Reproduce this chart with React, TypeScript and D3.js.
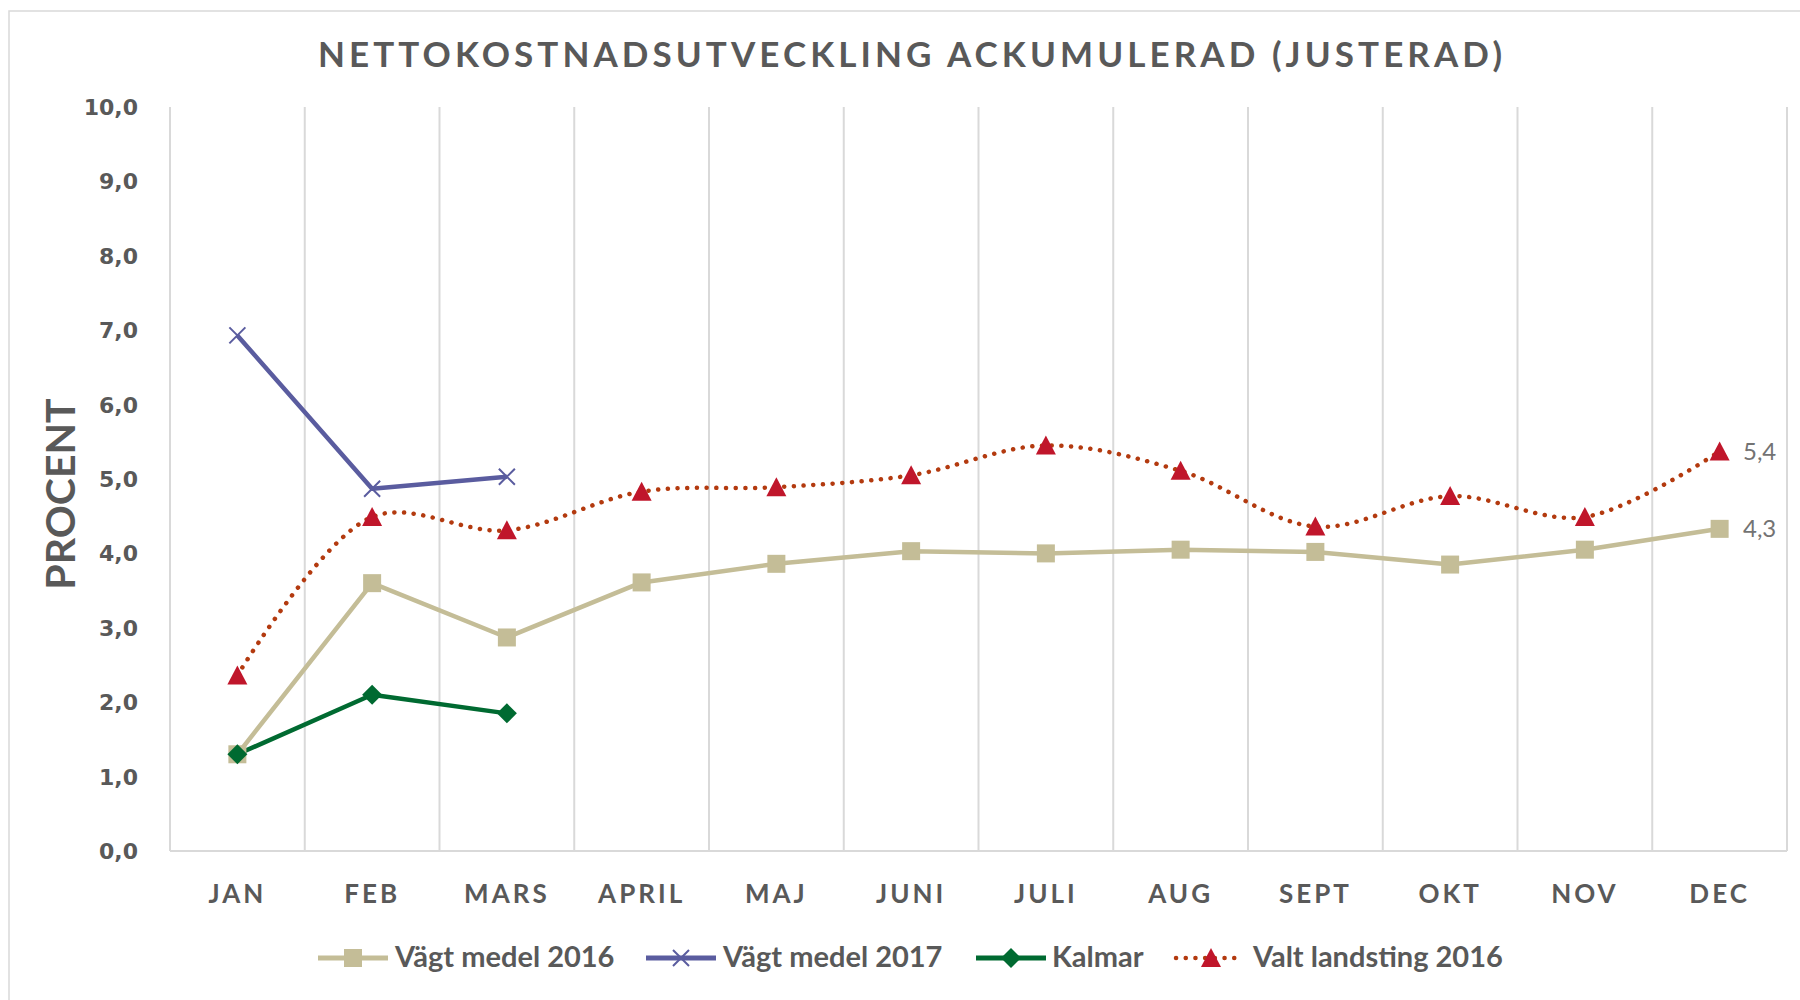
import React from 'react';
import * as d3 from 'd3';

const months = ['JAN', 'FEB', 'MARS', 'APRIL', 'MAJ', 'JUNI', 'JULI', 'AUG', 'SEPT', 'OKT', 'NOV', 'DEC'];
const vagtMedel2016 = [1.3, 3.6, 2.87, 3.61, 3.86, 4.03, 4.0, 4.05, 4.02, 3.85, 4.05, 4.33];
const vagtMedel2017 = [6.93, 4.87, 5.03];
const kalmar = [1.3, 2.1, 1.85];
const valtLandsting2016 = [2.36, 4.49, 4.31, 4.83, 4.89, 5.05, 5.45, 5.11, 4.36, 4.77, 4.49, 5.37];
const yTicks = [0, 1, 2, 3, 4, 5, 6, 7, 8, 9, 10];

const TEXT = '#595959';
const TAN = '#C4BD97';
const PURPLE = '#5A5C9F';
const GREEN = '#006A31';
const RED = '#C0162B';
const DOTS = '#B33A0F';

const left = 170;
const right = 1787;
const top = 107;
const bottom = 851;

const fmt = (v: number) => v.toFixed(1).replace('.', ',');

// marker shapes, centred on x,y
const Square = ({ x, y }: { x: number; y: number }) => (
  <rect x={x - 9} y={y - 9} width={18} height={18} fill={TAN} />
);
const Cross = ({ x, y }: { x: number; y: number }) => (
  <path d={`M${x - 8},${y - 8}L${x + 8},${y + 8}M${x - 8},${y + 8}L${x + 8},${y - 8}`} stroke={PURPLE} strokeWidth={2} />
);
const Diamond = ({ x, y }: { x: number; y: number }) => (
  <path d={`M${x},${y - 10}L${x + 10},${y}L${x},${y + 10}L${x - 10},${y}Z`} fill={GREEN} />
);
const Triangle = ({ x, y }: { x: number; y: number }) => (
  <path d={`M${x},${y - 10}L${x + 10},${y + 9}L${x - 10},${y + 9}Z`} fill={RED} />
);

export default function App() {
  const x = d3.scaleBand<string>().domain(months).range([left, right]);
  const y = d3.scaleLinear().domain([0, 10]).range([bottom, top]);
  const cx = (i: number) => (x(months[i]) as number) + x.bandwidth() / 2;

  const straight = d3.line<number>().x((_, i) => cx(i)).y(d => y(d));
  const smooth = d3.line<number>().x((_, i) => cx(i)).y(d => y(d)).curve(d3.curveCatmullRom.alpha(0.5));

  const gridXs = months.map(m => x(m) as number).concat([right]);

  const legend = [
    { label: 'Vägt medel 2016', sx: 318, tx: 395, kind: 'tan' },
    { label: 'Vägt medel 2017', sx: 646, tx: 723, kind: 'purple' },
    { label: 'Kalmar', sx: 976, tx: 1052, kind: 'green' },
    { label: 'Valt landsting 2016', sx: 1176, tx: 1253, kind: 'red' },
  ];
  const legendY = 958;

  return (
    <svg width={1800} height={1000} style={{ position: 'absolute', left: 0, top: 0, background: '#fff' }}>
      <rect x={9} y={11} width={1800} height={1000} fill="#fff" stroke="#d9d9d9" strokeWidth={1.5} />

      <text x={318} y={67} textLength={1184} lengthAdjust="spacing" fontFamily="Lato" fontWeight="bold" fontSize={35} fill={TEXT}>
        NETTOKOSTNADSUTVECKLING ACKUMULERAD (JUSTERAD)
      </text>

      {/* vertical gridlines */}
      {gridXs.map((gx, i) => (
        <line key={i} x1={gx} x2={gx} y1={top} y2={bottom} stroke="#d9d9d9" strokeWidth={2} />
      ))}
      <line x1={left} x2={right} y1={bottom} y2={bottom} stroke="#d9d9d9" strokeWidth={2} />

      {/* y ticks */}
      {yTicks.map(t => (
        <text key={t} x={138} y={y(t)} dy="0.36em" textAnchor="end" fontFamily="DejaVu Sans" fontWeight="bold" fontSize={22} fill={TEXT}>
          {fmt(t)}
        </text>
      ))}
      <text transform="translate(75,494) rotate(-90)" textAnchor="middle" fontFamily="Lato" fontWeight="bold" fontSize={41} fill={TEXT}>
        PROCENT
      </text>

      {/* x labels */}
      {months.map((m, i) => (
        <text key={m} x={cx(i)} y={903} textAnchor="middle" letterSpacing={3} fontFamily="Lato" fontWeight="bold" fontSize={26} fill={TEXT}>
          {m}
        </text>
      ))}

      {/* series */}
      <path d={straight(vagtMedel2016) || ''} fill="none" stroke={TAN} strokeWidth={4.5} strokeLinejoin="round" />
      <path d={smooth(valtLandsting2016) || ''} fill="none" stroke={DOTS} strokeWidth={4.5} strokeLinecap="round" strokeDasharray="0.1 9.6" />
      <path d={straight(kalmar) || ''} fill="none" stroke={GREEN} strokeWidth={4.5} strokeLinejoin="round" />
      <path d={straight(vagtMedel2017) || ''} fill="none" stroke={PURPLE} strokeWidth={4.5} strokeLinejoin="round" />

      {vagtMedel2016.map((v, i) => <Square key={'s' + i} x={cx(i)} y={y(v)} />)}
      {valtLandsting2016.map((v, i) => <Triangle key={'t' + i} x={cx(i)} y={y(v)} />)}
      {kalmar.map((v, i) => <Diamond key={'d' + i} x={cx(i)} y={y(v)} />)}
      {vagtMedel2017.map((v, i) => <Cross key={'c' + i} x={cx(i)} y={y(v)} />)}

      {/* data labels on last point */}
      <text x={1743} y={y(valtLandsting2016[11])} dy="0.36em" fontFamily="Lato" fontSize={24} fill="#737373">
        {fmt(valtLandsting2016[11])}
      </text>
      <text x={1743} y={y(vagtMedel2016[11])} dy="0.36em" fontFamily="Lato" fontSize={24} fill="#737373">
        {fmt(vagtMedel2016[11])}
      </text>

      {/* legend */}
      {legend.map(item => {
        const mid = item.sx + 35;
        return (
          <g key={item.label}>
            {item.kind === 'red' ? (
              <line x1={item.sx} x2={item.sx + 64} y1={legendY} y2={legendY} stroke={DOTS} strokeWidth={4.5} strokeLinecap="round" strokeDasharray="0.1 9.6" />
            ) : (
              <line x1={item.sx} x2={item.sx + 70} y1={legendY} y2={legendY} stroke={item.kind === 'tan' ? TAN : item.kind === 'purple' ? PURPLE : GREEN} strokeWidth={5} />
            )}
            {item.kind === 'tan' && <Square x={mid} y={legendY} />}
            {item.kind === 'purple' && <Cross x={mid} y={legendY} />}
            {item.kind === 'green' && <Diamond x={mid} y={legendY} />}
            {item.kind === 'red' && <Triangle x={item.sx + 35} y={legendY} />}
            <text x={item.tx} y={967} fontFamily="Lato" fontWeight="bold" fontSize={29} fill={TEXT}>
              {item.label}
            </text>
          </g>
        );
      })}
    </svg>
  );
}
